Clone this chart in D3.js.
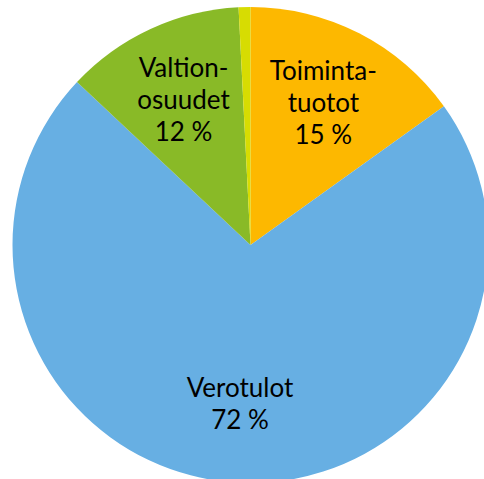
<!DOCTYPE html>
<html><head><meta charset="utf-8">
<script src="https://cdn.jsdelivr.net/npm/d3@7"></script>
<style>html,body{margin:0;padding:0;background:#fff;}svg{display:block;}</style>
</head><body>
<script>
const categories = ["Toimintatuotot", "Verotulot", "Valtionosuudet", "Muut"];
const values = [15.1, 71.9, 12.2, 0.8];
const labelLines = [["Toiminta-", "tuotot", "15 %"], ["Verotulot", "72 %"], ["Valtion-", "osuudet", "12 %"], []];
const colors = ["#FDB800", "#67AFE3", "#89BA27", "#D7DC02"];

const W = 484, H = 479;
const cx = 250.5, cy = 245, R = 238;
const svg = d3.select("body").append("svg").attr("width", W).attr("height", H);
const g = svg.append("g").attr("transform", `translate(${cx},${cy})`);

const data = categories.map((c, i) => ({c, v: values[i], lines: labelLines[i], col: colors[i]}));
const pie = d3.pie().value(d => d.v).sort(null);
const arc = d3.arc().innerRadius(0).outerRadius(R);
const labelArc = d3.arc().innerRadius(R * 0.67).outerRadius(R * 0.67);
const arcs = pie(data);

g.selectAll("path").data(arcs).join("path")
  .attr("d", arc).attr("fill", d => d.data.col);

const fs = 26, lh = 32;
arcs.forEach(a => {
  if (!a.data.lines.length) return;
  const [x, y] = labelArc.centroid(a);
  const n = a.data.lines.length;
  const t = g.append("text").attr("text-anchor", "middle")
    .attr("font-family", "Lato, 'Open Sans', sans-serif").attr("font-size", fs).attr("fill", "#000");
  a.data.lines.forEach((ln, i) => {
    t.append("tspan").attr("x", x).attr("y", y + (i - (n - 1) / 2) * lh + fs * 0.35).text(ln);
  });
});
</script>
</body></html>
